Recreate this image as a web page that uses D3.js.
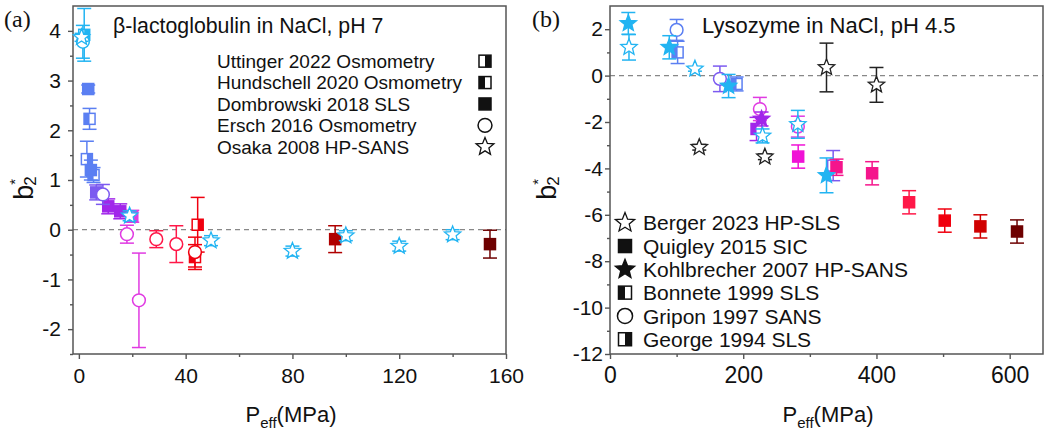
<!DOCTYPE html>
<html><head><meta charset="utf-8">
<script src="https://cdn.jsdelivr.net/npm/d3@7/dist/d3.min.js"></script>
<style>body{margin:0;background:#fff;} svg{display:block;font-family:"Liberation Sans",Arial,sans-serif;}</style>
</head><body><svg id="c" width="1050" height="435"></svg>
<script>
// ---------- DATA ----------
// each point: [P_eff (MPa), b2*, error, colour level]
const levelNames = ["L0","L1","L2","L3","L4","L5","L6","L7","L8","L9","L10","L11","L12"];

// Panel (a): beta-lactoglobulin in NaCl, pH 7
const aUttinger   = [[2.0,3.92,0.53,0],[3.0,1.42,0.36,1],[20.0,0.27,0.12,4],[44.5,0.10,0.55,8]];
const aHundschell = [[4.0,2.23,0.21,1],[5.5,1.10,0.15,1],[43.5,-0.55,0.25,8]];
const aDombrowski = [[3.5,2.83,0.08,1],[4.5,1.20,0.20,1],[6.5,0.75,0.15,2],[11.0,0.47,0.15,3],[15.5,0.37,0.15,3],[96.0,-0.19,0.27,10],[154.0,-0.29,0.28,11]];
const aErsch      = [[1.5,3.78,0.33,0],[9.0,0.71,0.20,2],[18.0,-0.09,0.18,4],[22.5,-1.42,0.95,4],[29.0,-0.19,0.17,7],[36.5,-0.29,0.37,7],[43.5,-0.45,0.30,8]];
const aOsaka      = [[1.0,3.87,0.08,0],[19.0,0.28,0.10,0],[49.5,-0.22,0.10,0],[80.0,-0.43,0.10,0],[100.0,-0.12,0.10,0],[120.0,-0.33,0.10,0],[140.0,-0.10,0.10,0]];

// Panel (b): lysozyme in NaCl, pH 4.5
const bGeorge      = [[335,-3.88,0.65,2]];
const bBonnete     = [[101.5,1.00,0.48,1],[190,-0.36,0.30,1],[220,-2.30,0.50,3]];
const bGripon      = [[100,1.97,0.45,1],[165,-0.14,0.55,2],[225,-1.44,0.50,4],[282,-2.20,0.45,4]];
const bQuigley     = [[282.5,-3.49,0.50,5],[340,-3.95,0.35,6],[393.5,-4.21,0.50,6],[449,-5.46,0.50,7],[502.5,-6.25,0.50,8],[556,-6.50,0.50,9],[611,-6.72,0.50,11]];
const bKohlbrecher = [[27.5,2.25,0.47,0],[89,1.22,0.50,0],[178,-0.45,0.50,0],[227.5,-1.87,0.30,3],[325,-4.30,0.75,0]];
const bBerger      = [[28.5,1.22,0.55,0],[127.5,0.29,0.10,0],[229,-2.60,0.30,0],[282,-2.10,0.60,0],[134,-3.09,0.12,12],[232.5,-3.50,0.12,12],[325,0.35,1.05,12],[400,-0.40,0.75,12]];

// axis ticks
const aXTicks = [0,40,80,120,160], aXMinor = [20,60,100,140];
const aYTicks = [-2,-1,0,1,2,3,4], aYMinor = [-2.5,-1.5,-0.5,0.5,1.5,2.5,3.5];
const bXTicks = [0,200,400,600], bXMinor = [100,300,500];
const bYTicks = [-12,-10,-8,-6,-4,-2,0,2], bYMinor = [-11,-9,-7,-5,-3,-1,1];

const aLegend = [["Uttinger 2022 Osmometry","halfR"],["Hundschell 2020 Osmometry","halfL"],["Dombrowski 2018 SLS","square"],["Ersch 2016 Osmometry","circle"],["Osaka 2008 HP-SANS","star"]];
const bLegend = [["Berger 2023 HP-SLS","star"],["Quigley 2015 SIC","square"],["Kohlbrecher 2007 HP-SANS","starF"],["Bonnete 1999 SLS","halfL"],["Gripon 1997 SANS","circle"],["George 1994 SLS","halfR"]];

// ---------- STYLE ----------
const palette = ["#22b4f2","#5b7ff2","#7c5af0","#a126ea","#e03ae2","#f012d6","#f5158c","#ff1848","#f0000f","#d00000","#b00000","#6e0000","#222222"];
const color = d3.scaleOrdinal().domain(d3.range(levelNames.length)).range(palette);
const axisCol = "#555";

const svg = d3.select("#c");

function starPath(R, r) {
  const p = [];
  for (let i = 0; i < 10; i++) {
    const a = -Math.PI/2 + i*Math.PI/5;
    const rad = i % 2 === 0 ? R : r;
    p.push([rad*Math.cos(a), rad*Math.sin(a)]);
  }
  return "M" + p.map(d => d[0].toFixed(2) + "," + d[1].toFixed(2)).join("L") + "Z";
}

function marker(g, type, col, s) {
  const sw = 1.5;
  if (type === "star" || type === "starF") {
    g.append("path").attr("d", starPath(s*0.78, s*0.34))
      .attr("fill", type === "starF" ? col : "#fff").attr("stroke", col).attr("stroke-width", 1.3);
  } else if (type === "circle") {
    g.append("circle").attr("r", s*0.58).attr("fill", "#fff").attr("stroke", col).attr("stroke-width", sw);
  } else if (type === "square") {
    g.append("rect").attr("x", -s/2).attr("y", -s/2).attr("width", s).attr("height", s).attr("fill", col).attr("stroke", col).attr("stroke-width", sw);
  } else {
    g.append("rect").attr("x", -s/2).attr("y", -s/2).attr("width", s).attr("height", s).attr("fill", "#fff").attr("stroke", col).attr("stroke-width", sw);
    g.append("rect").attr("x", type === "halfL" ? -s/2 : 0).attr("y", -s/2).attr("width", s/2).attr("height", s).attr("fill", col);
  }
}

function drawPanel(cfg) {
  const x = d3.scaleLinear().domain(cfg.xd).range([cfg.x0, cfg.x1]);
  const y = d3.scaleLinear().domain(cfg.yd).range([cfg.y1, cfg.y0]);
  const g = svg.append("g");

  g.append("line").attr("x1", cfg.x0).attr("x2", cfg.x1).attr("y1", y(0)).attr("y2", y(0))
    .attr("stroke", "#888").attr("stroke-width", 1.2).attr("stroke-dasharray", "5,4");

  const xa = g.append("g").attr("transform", `translate(0,${cfg.y1})`)
    .call(d3.axisBottom(x).tickValues(cfg.xt).tickSize(5).tickSizeOuter(0).tickPadding(cfg.xpad));
  const xm = g.append("g").attr("transform", `translate(0,${cfg.y1})`)
    .call(d3.axisBottom(x).tickValues(cfg.xm).tickSize(3).tickSizeOuter(0).tickFormat(""));
  const ya = g.append("g").attr("transform", `translate(${cfg.x0},0)`)
    .call(d3.axisLeft(y).tickValues(cfg.yt).tickSize(5).tickSizeOuter(0).tickPadding(cfg.ypad).tickFormat(d3.format("d")));
  const ym = g.append("g").attr("transform", `translate(${cfg.x0},0)`)
    .call(d3.axisLeft(y).tickValues(cfg.ym).tickSize(3).tickSizeOuter(0).tickFormat(""));
  [xa, xm, ya, ym].forEach(a => {
    a.selectAll("path.domain").attr("stroke", "none");
    a.selectAll("line").attr("stroke", axisCol).attr("stroke-width", 1.4);
  });
  xa.selectAll("text").attr("font-size", cfg.xfs).attr("fill", "#111").attr("font-family", "Liberation Sans, Arial, sans-serif");
  ya.selectAll("text").attr("font-size", cfg.yfs).attr("fill", "#111").attr("font-family", "Liberation Sans, Arial, sans-serif")
    .text(d => d < 0 ? "-" + Math.abs(d) : d);

  g.append("rect").attr("x", cfg.x0).attr("y", cfg.y0).attr("width", cfg.x1 - cfg.x0).attr("height", cfg.y1 - cfg.y0)
    .attr("fill", "none").attr("stroke", axisCol).attr("stroke-width", 1.5);

  const cap = 7;
  cfg.series.forEach(([data, type]) => {
    data.forEach(d => {
      const col = color(d[3]);
      const px = x(d[0]), py = y(d[1]), yt = y(d[1] + d[2]), yb = y(d[1] - d[2]);
      const e = g.append("g").attr("stroke", col).attr("stroke-width", 1.5);
      e.append("line").attr("x1", px).attr("x2", px).attr("y1", yt).attr("y2", yb);
      e.append("line").attr("x1", px - cap).attr("x2", px + cap).attr("y1", yt).attr("y2", yt);
      e.append("line").attr("x1", px - cap).attr("x2", px + cap).attr("y1", yb).attr("y2", yb);
      const m = g.append("g").attr("transform", `translate(${px},${py})`);
      marker(m, type, col, cfg.ms);
    });
  });

  svg.append("text").attr("x", cfg.labX).attr("y", 27).attr("font-family", "Liberation Serif, Times New Roman, serif")
    .attr("font-size", 24).attr("fill", "#111").text(cfg.label);
  svg.append("text").attr("x", cfg.titleX).attr("y", 33).attr("font-size", cfg.titleFs).attr("fill", "#111").text(cfg.title);

  cfg.legend.forEach((l, i) => {
    const by = cfg.legY + i*cfg.legDy;
    svg.append("text").attr("x", cfg.legTextX).attr("y", by).attr("font-size", cfg.legFs).attr("fill", "#111").text(l[0]);
    const m = svg.append("g").attr("transform", `translate(${cfg.legSymX},${by - cfg.legFs*0.36})`);
    marker(m, l[1], "#111", cfg.legMs);
  });

  const yl = svg.append("text").attr("transform", `translate(${cfg.ylX},${cfg.ylY}) rotate(-90)`)
    .attr("text-anchor", "middle").attr("fill", "#111").attr("font-size", 27);
  yl.append("tspan").text("b");
  yl.append("tspan").attr("font-size", 15).attr("dy", -13).text("*");
  yl.append("tspan").attr("font-size", 17).attr("dx", -7).attr("dy", 16).text("2");

  const xl = svg.append("text").attr("x", cfg.xlX).attr("y", cfg.xlY).attr("text-anchor", "middle").attr("fill", "#111").attr("font-size", 22);
  xl.append("tspan").text("P");
  xl.append("tspan").attr("font-size", 15).attr("dy", 6).text("eff");
  xl.append("tspan").attr("dy", -6).text("(MPa)");
}

drawPanel({
  x0: 73, x1: 506, y0: 6, y1: 354, xd: [-2.2, 160], yd: [-2.5, 4.5],
  xt: aXTicks, xm: aXMinor, yt: aYTicks, ym: aYMinor, xpad: 9, ypad: 7, xfs: 21, yfs: 21, ms: 11,
  series: [[aUttinger, "halfR"], [aHundschell, "halfL"], [aDombrowski, "square"], [aErsch, "circle"], [aOsaka, "star"]],
  label: "(a)", labX: 4, title: "β-lactoglobulin in NaCl, pH 7", titleX: 113, titleFs: 21.3,
  legend: aLegend, legY: 68, legDy: 21.4, legTextX: 217, legSymX: 485, legFs: 19, legMs: 12,
  ylX: 33, ylY: 188, xlX: 291, xlY: 422
});

drawPanel({
  x0: 610, x1: 1043, y0: 6, y1: 354, xd: [0, 650], yd: [-12, 3],
  xt: bXTicks, xm: bXMinor, yt: bYTicks, ym: bYMinor, xpad: 8, ypad: 2, xfs: 23, yfs: 21, ms: 11,
  series: [[bGeorge, "halfR"], [bBonnete, "halfL"], [bGripon, "circle"], [bQuigley, "square"], [bKohlbrecher, "starF"], [bBerger, "star"]],
  label: "(b)", labX: 532, title: "Lysozyme in NaCl, pH 4.5", titleX: 702, titleFs: 22,
  legend: bLegend, legY: 230.3, legDy: 23.3, legTextX: 643, legSymX: 625, legFs: 21, legMs: 13,
  ylX: 556, ylY: 188, xlX: 828, xlY: 422
});
</script></body></html>
